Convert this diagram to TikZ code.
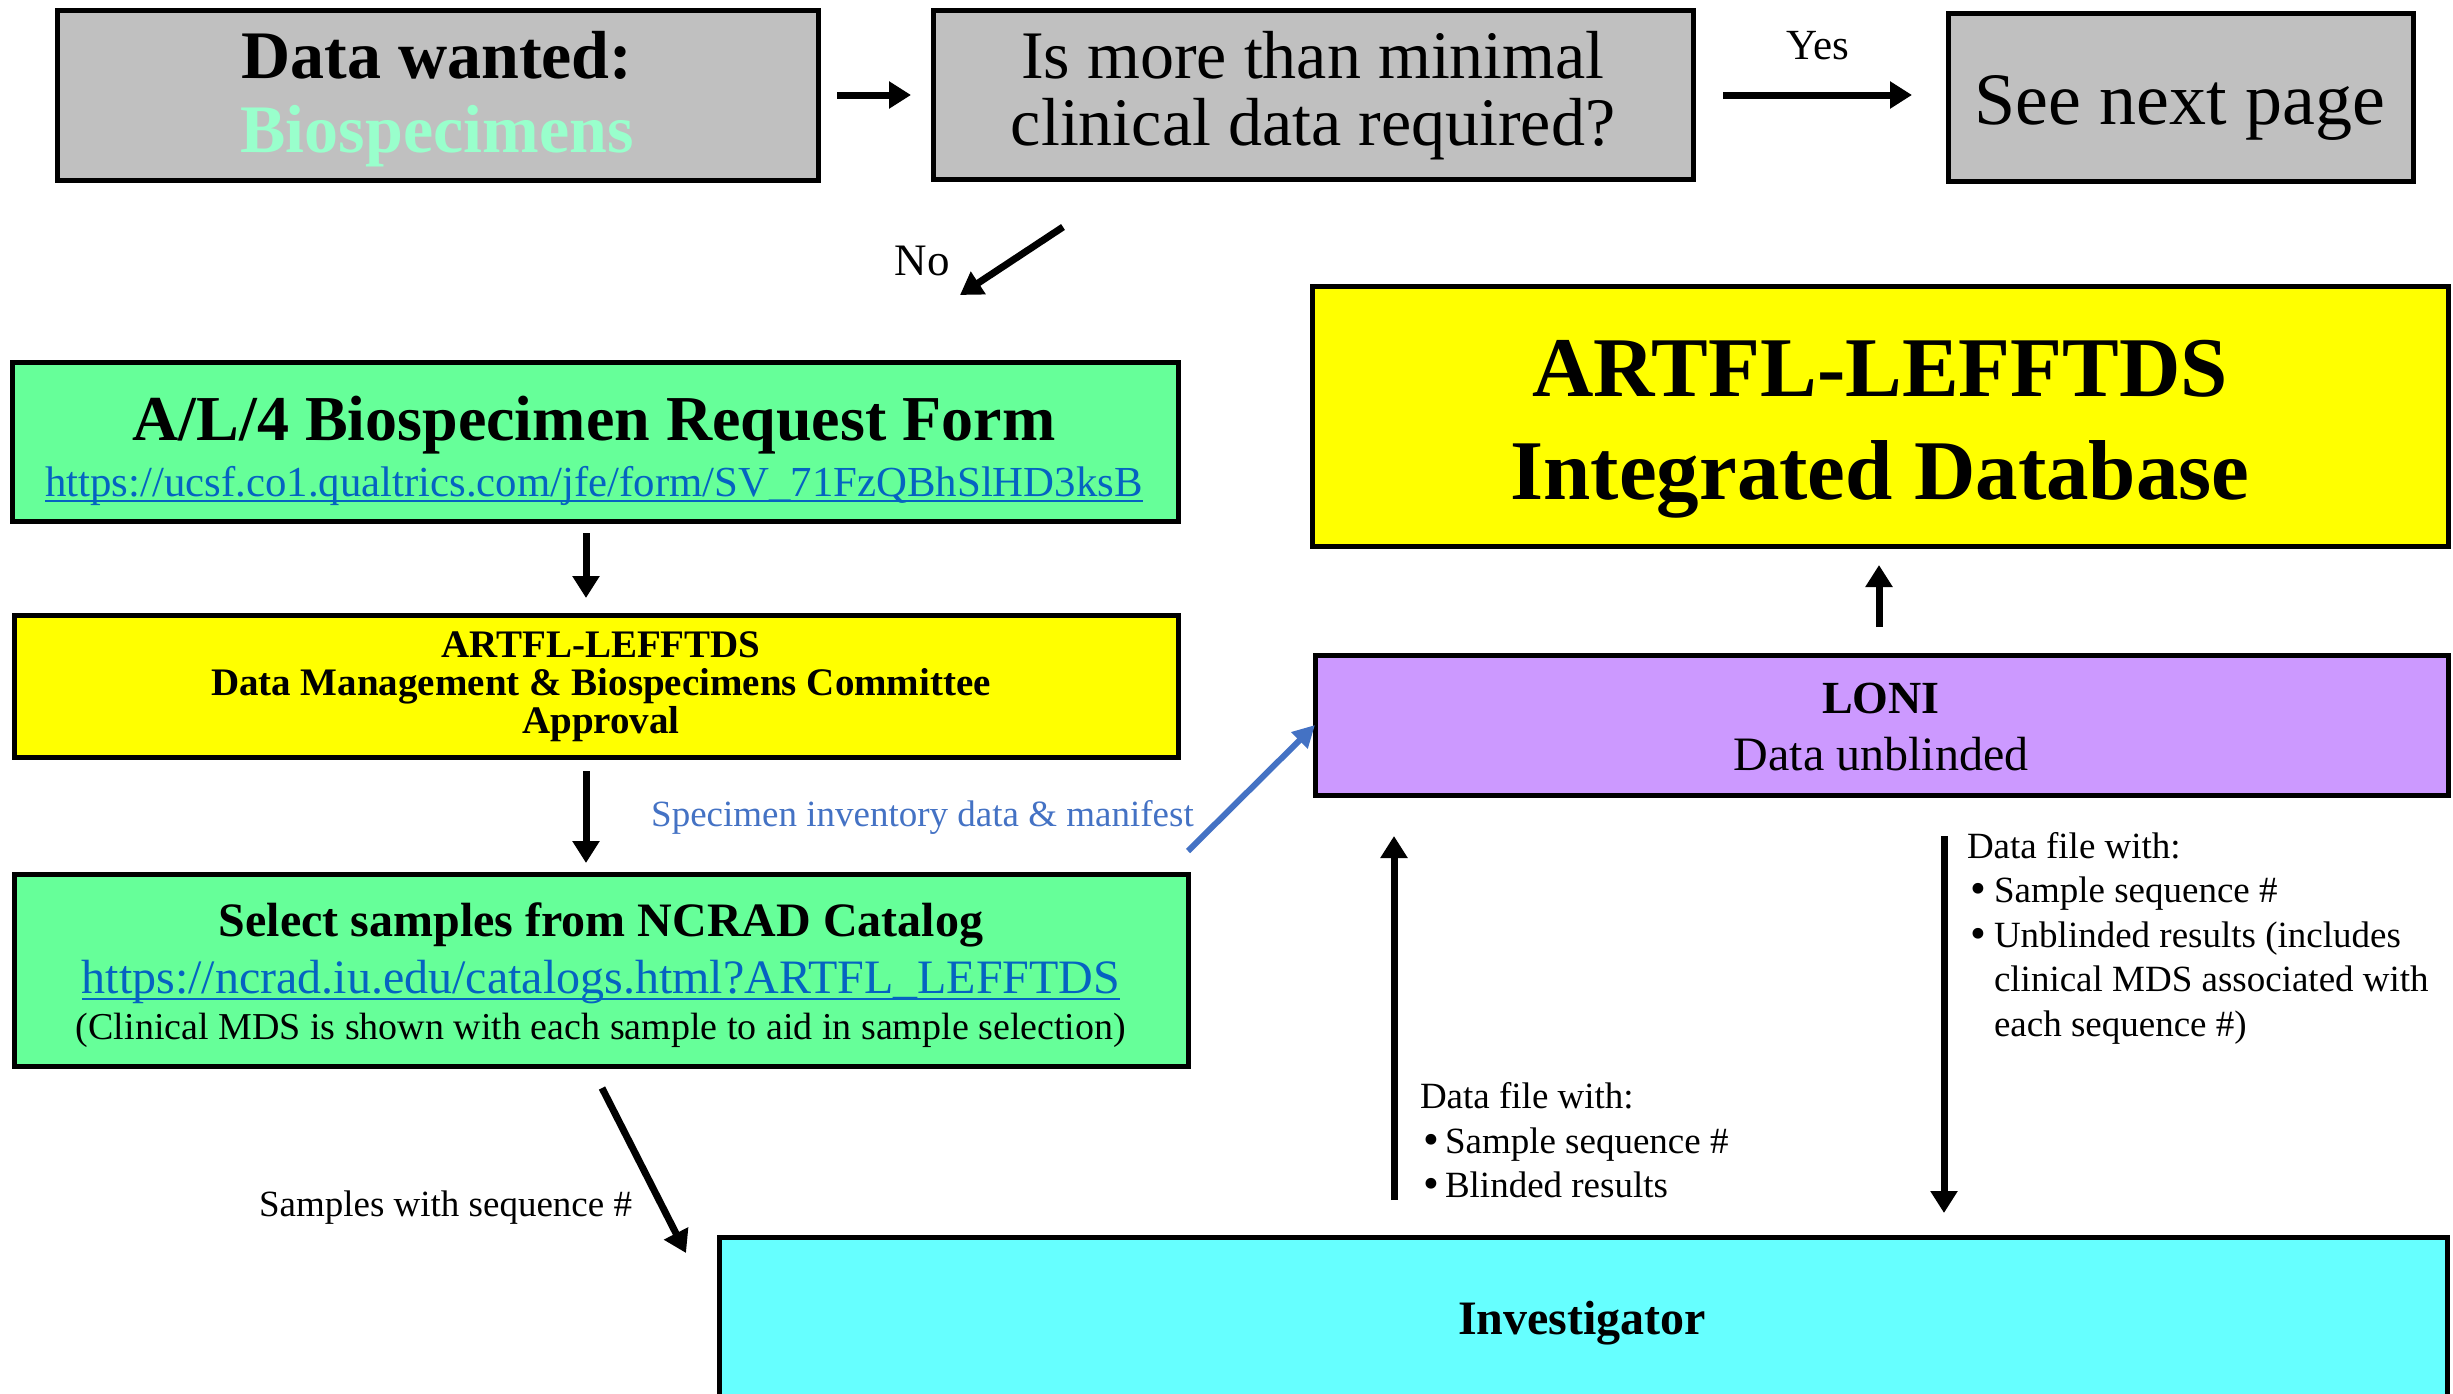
\documentclass[tikz,border=0pt]{standalone}
\usepackage{fontspec}
\setmainfont{Liberation Serif}
\newfontfamily\bulfont{DejaVu Sans}
\usetikzlibrary{arrows.meta}
\definecolor{boxgray}{HTML}{C0C0C0}
\definecolor{boxgreen}{HTML}{66FF99}
\definecolor{boxyellow}{HTML}{FFFF00}
\definecolor{boxpurple}{HTML}{CC99FF}
\definecolor{boxcyan}{HTML}{66FFFF}
\definecolor{mint}{HTML}{99FFCC}
\definecolor{linkblue}{HTML}{0563C1}
\definecolor{arrowblue}{HTML}{4472C4}
\newcommand\fsz[1]{\fontsize{#1}{#1}\selectfont}
\newcommand\bul[1]{\makebox[#1][l]{{\bulfont •}}}
\begin{document}
\begin{tikzpicture}[x=1pt,y=-1pt,
 box/.style={draw=black,line width=5pt,inner sep=0pt,outer sep=0pt},
 txt/.style={anchor=base,inner sep=0pt,outer sep=0pt},
 tight/.style={text height=26pt,text depth=8pt},
 txtl/.style={anchor=base west,inner sep=0pt,outer sep=0pt,font=\fsz{37},text height=27pt,text depth=9pt},
 arr/.style={line width=7pt,-{Triangle[length=22pt,width=26pt]}},
 barr/.style={draw=arrowblue,line width=6pt,-{Triangle[length=22pt,width=22pt]}},
 ul/.style={draw=linkblue,line width=2.5pt}]
\useasboundingbox (0,0) rectangle (2453,1393);
% boxes
\node[box,fill=boxgray,minimum width=761pt,minimum height=170pt] (b1) at (437.5,95) {};
\node[box,fill=boxgray,minimum width=760pt,minimum height=169pt] (b2) at (1313,94.5) {};
\node[box,fill=boxgray,minimum width=465pt,minimum height=168pt] (b3) at (2180.5,97) {};
\node[box,fill=boxgreen,minimum width=1166pt,minimum height=159pt] (b4) at (595,441.5) {};
\node[box,fill=boxyellow,minimum width=1164pt,minimum height=142pt] (b5) at (596,686) {};
\node[box,fill=boxgreen,minimum width=1174pt,minimum height=192pt] (b6) at (601,970) {};
\node[box,fill=boxyellow,minimum width=1136pt,minimum height=260pt] (b7) at (1880,416) {};
\node[box,fill=boxpurple,minimum width=1133pt,minimum height=140pt] (b8) at (1881.5,725) {};
\node[box,fill=boxcyan,minimum width=1728pt,minimum height=159pt] (b9) at (1583,1316.5) {};
% texts
\node[txt,font=\bfseries\fsz{68}] (t1a) at (437,78) {Data wanted:};
\node[txt,font=\bfseries\fsz{68},text=mint] (t1b) at (437,152) {Biospecimens};
\node[txt,font=\fsz{68}] (t2a) at (1313,78) {Is more than minimal};
\node[txt,font=\fsz{68}] (t2b) at (1313,145) {clinical data required?};
\node[txt,font=\fsz{74}] (t3) at (2180,124) {See next page};
\node[txt,font=\fsz{43}] (yes) at (1818,59) {Yes};
\node[txt,font=\fsz{45}] (no) at (922,275) {No};
\node[txt,font=\bfseries\fsz{64}] (t4a) at (594,440) {A/L/4 Biospecimen Request Form};
\node[txt,font=\fsz{42.8},text=linkblue] (t4b) at (594,496) {https://ucsf.co1.qualtrics.com/jfe/form/SV\_71FzQBhSlHD3ksB};
\draw[ul] ([yshift=-5pt]t4b.base west) -- ([yshift=-5pt]t4b.base east);
\node[txt,tight,font=\bfseries\fsz{39}] (t5a) at (601,657) {ARTFL-LEFFTDS};
\node[txt,tight,font=\bfseries\fsz{39}] (t5b) at (601,695) {Data Management \& Biospecimens Committee};
\node[txt,tight,font=\bfseries\fsz{39}] (t5c) at (601,733) {Approval};
\node[txt,font=\bfseries\fsz{48}] (t6a) at (601,936) {Select samples from NCRAD Catalog};
\node[txt,font=\fsz{48},text=linkblue] (t6b) at (601,993) {https://ncrad.iu.edu/catalogs.html?ARTFL\_LEFFTDS};
\draw[ul] ([yshift=-6pt]t6b.base west) -- ([yshift=-6pt]t6b.base east);
\node[txt,font=\fsz{38}] (t6c) at (601,1039) {(Clinical MDS is shown with each sample to aid in sample selection)};
\node[txt,font=\bfseries\fsz{85}] (t7a) at (1880,396) {ARTFL-LEFFTDS};
\node[txt,font=\bfseries\fsz{85}] (t7b) at (1880,499) {Integrated Database};
\node[txt,font=\bfseries\fsz{46}] (t8a) at (1881,713) {LONI};
\node[txt,font=\fsz{48}] (t8b) at (1881,770) {Data unblinded};
\node[txt,font=\fsz{37},text=arrowblue] (spec) at (922.5,826) {Specimen inventory data \& manifest};
\node[txt,font=\fsz{37}] (samp) at (445.5,1216) {Samples with sequence \#};
\node[txt,font=\bfseries\fsz{48}] (t9) at (1582,1334) {Investigator};
\node[txtl] (l1) at (1420,1108) {Data file with:};
\node[txtl] (l2) at (1420,1153) {\bul{25pt}Sample sequence \#};
\node[txtl] (l3) at (1420,1197) {\bul{25pt}Blinded results};
\node[txtl] (r1) at (1967,858) {Data file with:};
\node[txtl] (r2) at (1967,902) {\bul{27pt}Sample sequence \#};
\node[txtl] (r3) at (1967,947) {\bul{27pt}Unblinded results (includes};
\node[txtl] (r4) at (1994,991) {clinical MDS associated with};
\node[txtl] (r5) at (1994,1036) {each sequence \#)};
% connector end points
\coordinate (a1s) at (837,95);   \coordinate (a1e) at (911,95);
\coordinate (a2s) at (1723,95);  \coordinate (a2e) at (1912,95);
\coordinate (a3s) at (1063,227); \coordinate (a3e) at (960,295);
\coordinate (a4s) at (586,533);  \coordinate (a4e) at (586,598);
\coordinate (a5s) at (586,771);  \coordinate (a5e) at (586,863);
\coordinate (a6s) at (1188,851);
\coordinate (a7s) at (1879,627); \coordinate (a7e) at (1879,565);
\coordinate (a8s) at (602,1088); \coordinate (a8e) at (686,1253);
\coordinate (a9s) at (1394,1200); \coordinate (a9e) at (1394,836);
\coordinate (a10s) at (1944,836); \coordinate (a10e) at (1944,1213);
% connectors
\draw[arr] (a1s) -- (a1e);
\draw[arr] (a2s) -- (a2e);
\draw[arr] (a3s) -- (a3e);
\draw[arr] (a4s) -- (a4e);
\draw[arr] (a5s) -- (a5e);
\draw[barr] (a6s) -- (b8.west);
\draw[arr] (a7s) -- (a7e);
\draw[arr] (a8s) -- (a8e);
\draw[arr] (a9s) -- (a9e);
\draw[arr] (a10s) -- (a10e);
\end{tikzpicture}
\end{document}
